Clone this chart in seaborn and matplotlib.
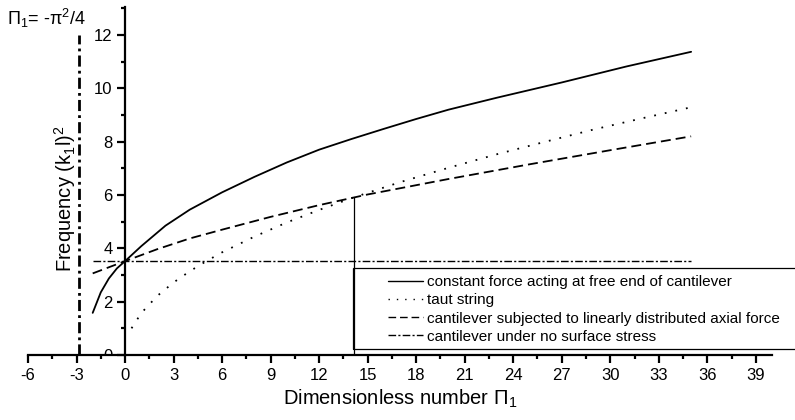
import matplotlib
matplotlib.use('Agg')
import matplotlib.pyplot as plt
import seaborn as sns
from matplotlib.lines import Line2D
from matplotlib.patches import Rectangle
from matplotlib.ticker import MultipleLocator

# values
force_x = [-2, -1.5, -1, -0.5, 0, 1, 2.5, 4, 6, 8, 10, 12, 14, 16, 18, 20, 23, 27, 31, 35]
force_y = [1.58, 2.35, 2.87, 3.25, 3.52, 4.08, 4.85, 5.45, 6.1, 6.68, 7.22, 7.7, 8.1, 8.48,
           8.85, 9.2, 9.65, 10.22, 10.82, 11.37]

taut_x = [0.4, 1, 2, 3, 4, 5, 6, 8, 10, 12, 14, 17, 20, 23, 26, 29, 32, 35]
taut_y = [1.0, 1.57, 2.22, 2.72, 3.14, 3.51, 3.85, 4.44, 4.97, 5.44, 5.88, 6.48, 7.02,
          7.53, 8.0, 8.46, 8.88, 9.29]

axial_x = [-2, 0, 2, 4, 6, 9, 12, 15, 20, 25, 30, 35]
axial_y = [3.06, 3.52, 3.97, 4.37, 4.7, 5.18, 5.62, 6.02, 6.6, 7.15, 7.68, 8.2]

nostress_x = [-2, 35]
nostress_y = [3.52, 3.52]

pi_limit_x = [-2.85, -2.85]   # Pi_1 = -pi^2/4 marker
pi_limit_y = [0, 12]

cross_x = [14.16, 14.16]      # taut string / axial force crossing
cross_y = [0, 5.92]

labels = ["constant force acting at free end of cantilever",
          "taut string",
          "cantilever subjected to linearly distributed axial force",
          "cantilever under no surface stress"]

sns.set_style('ticks', {'axes.edgecolor': 'black', 'text.color': 'black',
                        'xtick.color': 'black', 'ytick.color': 'black',
                        'axes.labelcolor': 'black'})
plt.rcParams['font.family'] = ['Liberation Sans', 'DejaVu Sans']
plt.rcParams['mathtext.fontset'] = 'custom'
plt.rcParams['mathtext.rm'] = 'Liberation Sans'
plt.rcParams['mathtext.it'] = 'Liberation Sans'
plt.rcParams['axes.unicode_minus'] = False

fig = plt.figure(figsize=(7.95, 4.2), dpi=100)
ax = fig.add_axes([28 / 795, 65 / 420, 744 / 795, 348 / 420])

solid = '-'
dotted = (0, (1, 5))
dashed = (0, (5.5, 2.8))
dashdot = (0, (5.5, 1.6, 1.5, 1.6))

sns.lineplot(x=force_x, y=force_y, ax=ax, color='black', lw=1.3, linestyle=solid)
sns.lineplot(x=taut_x, y=taut_y, ax=ax, color='black', lw=1.3, linestyle=dotted)
sns.lineplot(x=axial_x, y=axial_y, ax=ax, color='black', lw=1.3, linestyle=dashed)
sns.lineplot(x=nostress_x, y=nostress_y, ax=ax, color='black', lw=1.0, linestyle=dashdot)
ax.plot(pi_limit_x, pi_limit_y, color='black', lw=2.0, linestyle=(0, (4, 1.5, 1, 1.5)))
ax.plot(cross_x, cross_y, color='black', lw=0.9)

ax.set_xlim(-6, 40)
ax.set_ylim(0, 13.05)
ax.xaxis.set_major_locator(MultipleLocator(3))
ax.xaxis.set_minor_locator(MultipleLocator(1.5))
ax.yaxis.set_major_locator(MultipleLocator(2))
ax.yaxis.set_minor_locator(MultipleLocator(1))

ax.spines['left'].set_position(('data', 0))
ax.spines['top'].set_visible(False)
ax.spines['right'].set_visible(False)
for s in ('left', 'bottom'):
    ax.spines[s].set_linewidth(1.6)
    ax.spines[s].set_zorder(5)
ax.tick_params(which='major', direction='out', length=6, width=1.6, labelsize=12, pad=3)
ax.tick_params(which='minor', direction='out', length=3, width=1.6)

# the y "0" label is half hidden under the x axis in the original
fig.canvas.draw()
for lbl in ax.get_yticklabels():
    lbl.set_clip_box(ax.bbox)
    lbl.set_clip_on(True)

ax.set_xlabel("Dimensionless number \u03a0$_1$", fontsize=14.5, labelpad=4)
ax.set_ylabel("Frequency (k$_1$l)$^2$", fontsize=14.5)
ax.yaxis.set_label_coords(50 / 744, 0.45)

fig.text(7 / 795, 1 - 25 / 420, "\u03a0$_1$= -\u03c0$^2$/4", fontsize=13, va='baseline')

# legend box runs past the right edge of the figure
fig.add_artist(Rectangle((353 / 795, 1 - 349 / 420), 0.7, 81 / 420, transform=fig.transFigure,
                         fill=False, lw=0.9, edgecolor='black'))
handles = [Line2D([], [], color='black', lw=1.0, linestyle=solid),
           Line2D([], [], color='black', lw=1.0, linestyle=dotted),
           Line2D([], [], color='black', lw=1.0, linestyle=dashed),
           Line2D([], [], color='black', lw=1.0, linestyle=dashdot)]
fig.legend(handles, labels, loc='upper left', bbox_to_anchor=(388 / 795, 1 - 275 / 420),
           frameon=False, fontsize=11, handlelength=2.3, handletextpad=0.25,
           labelspacing=0.28, borderpad=0, borderaxespad=0)

fig.savefig('out.png', dpi=100)
